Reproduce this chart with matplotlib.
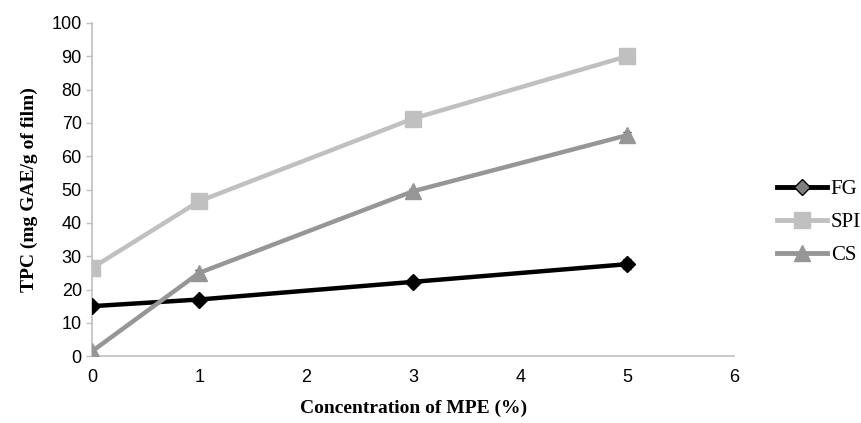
import matplotlib.pyplot as plt
from matplotlib.lines import Line2D

# MPE concentration (%)
conc = [0, 1, 3, 5]

fg_tpc = [15.0, 17.0, 22.3, 27.6]
spi_tpc = [26.5, 46.5, 71.3, 90.0]
cs_tpc = [1.5, 25.0, 49.5, 66.3]

fg_err = [0.8, 0.8, 1.0, 1.5]
spi_err = [0.8, 1.0, 2.0, 0.8]
cs_err = [0.5, 0.8, 0.8, 1.0]

x_ticks = [0, 1, 2, 3, 4, 5, 6]
y_ticks = list(range(0, 101, 10))


def main():
    fig = plt.figure(figsize=(8.62, 4.23), dpi=100)
    ax = fig.add_axes([0.107, 0.158, 0.745, 0.788])

    series = [
        ("FG", fg_tpc, fg_err, "black", "D", "#7f7f7f", 8),
        ("SPI", spi_tpc, spi_err, "#c0c0c0", "s", "#c0c0c0", 11),
        ("CS", cs_tpc, cs_err, "#969696", "^", "#969696", 11),
    ]
    handles = []
    for label, vals, err, color, marker, leg_face, ms in series:
        ax.errorbar(conc, vals, yerr=err, fmt="none", ecolor="black",
                    elinewidth=1, capsize=3, zorder=2)
        ax.plot(conc, vals, color=color, linewidth=3.2, marker=marker,
                markersize=ms, markerfacecolor=color, markeredgecolor=color,
                zorder=3)
        # legend FG marker is a grey diamond with black edge
        handles.append(Line2D([], [], color=color, linewidth=3.5,
                              marker=marker, markersize=ms,
                              markerfacecolor=leg_face,
                              markeredgecolor=color, label=label))

    ax.set_xlim(0, 6)
    ax.set_ylim(0, 100)
    ax.set_xticks(x_ticks)
    ax.set_yticks(y_ticks)
    ax.tick_params(axis="both", labelsize=13, colors="#bfbfbf",
                   labelcolor="black", length=4, width=1)
    ax.tick_params(axis="x", length=0, pad=9)
    for side in ("top", "right"):
        ax.spines[side].set_visible(False)
    for side in ("left", "bottom"):
        ax.spines[side].set_color("#bfbfbf")
        ax.spines[side].set_linewidth(1.2)
    for lbl in ax.get_xticklabels() + ax.get_yticklabels():
        lbl.set_family("Liberation Sans")

    ax.set_xlabel("Concentration of MPE (%)", family="Liberation Serif",
                  fontweight="bold", fontsize=14, labelpad=10)
    ax.set_ylabel("TPC (mg GAE/g of film)", family="Liberation Serif",
                  fontweight="bold", fontsize=14, labelpad=10)

    fig.legend(handles=handles, loc="center left",
               bbox_to_anchor=(0.901, 0.474), frameon=False,
               prop={"family": "Liberation Serif", "size": 15},
               handlelength=2.4, labelspacing=0.65, handletextpad=0.2,
               borderaxespad=0, borderpad=0)

    fig.savefig("out.png", dpi=100)


if __name__ == "__main__":
    main()
